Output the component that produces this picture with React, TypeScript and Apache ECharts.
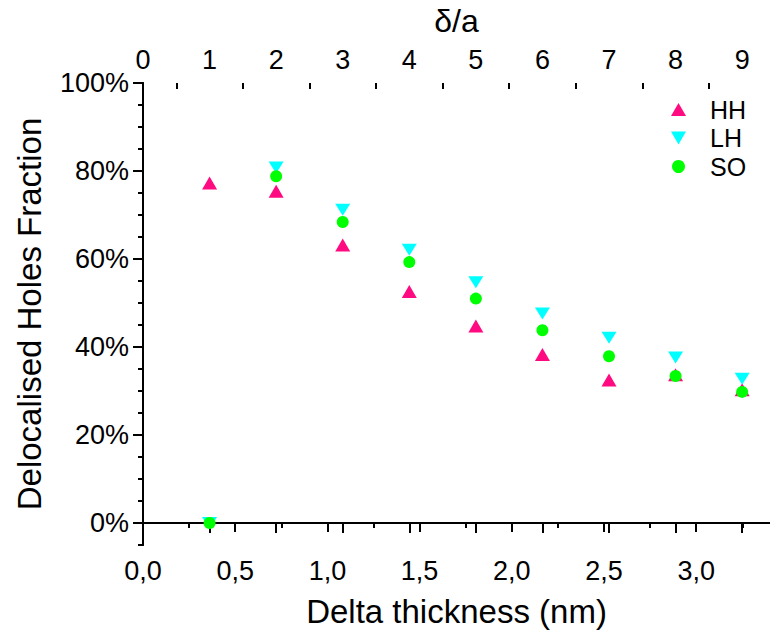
import React, { useEffect, useRef } from "react";
import * as echarts from "echarts";

// δ/a positions of the samples (top axis)
const deltaOverA = [1, 2, 3, 4, 5, 6, 7, 8, 9];
// Delocalised holes fraction (%)
const hhValues = [77.3, 75.4, 63.2, 52.6, 44.8, 38.3, 32.5, 33.7, 30.3];
const lhValues = [0, 80.8, 71.2, 62.1, 54.7, 47.6, 42.1, 37.6, 32.8];
const soValues = [0, 78.8, 68.4, 59.3, 51.0, 43.8, 37.9, 33.4, 29.8];

// tick positions
const bottomMajor = [0, 0.5, 1, 1.5, 2, 2.5, 3];
const bottomMinor = [0.25, 0.75, 1.25, 1.75, 2.25, 2.75, 3.25];
const topMajor = [0, 1, 2, 3, 4, 5, 6, 7, 8, 9];
const topMinor = [0.5, 1.5, 2.5, 3.5, 4.5, 5.5, 6.5, 7.5, 8.5];
const yMajor = [0, 20, 40, 60, 80, 100];
const yMinor = [-5, 5, 10, 15, 25, 30, 35, 45, 50, 55, 65, 70, 75, 85, 90, 95];

const X_MAX_NM = 3.4;
const NM_PER_DELTA = 0.361;
const Y_MIN = -5;
const Y_MAX = 100;

const FONT = "'Liberation Sans', Arial, Helvetica, sans-serif";
const AXIS_COLOR = "#000";

export default function App() {
  const ref = useRef<HTMLDivElement>(null);
  useEffect(() => {
    if (!ref.current) return;
    const chart = echarts.init(ref.current, null, { renderer: "svg" });
    const lineStyle = { color: AXIS_COLOR, width: 2 };
    const tickLine = { color: AXIS_COLOR, width: 2 };
    const base = {
      splitLine: { show: false },
      minorTick: { show: false },
    };
    const xMaxTop = X_MAX_NM / NM_PER_DELTA;
    const option: any = {
      animation: false,
      textStyle: { fontFamily: FONT },
      grid: { left: 143, top: 74, width: 628, height: 471, containLabel: false },
      legend: {
        orient: "vertical",
        left: 671,
        top: 97,
        padding: 0,
        itemWidth: 15,
        itemHeight: 13,
        itemGap: 3.5,
        textStyle: { fontSize: 25, lineHeight: 25, color: "#000", fontFamily: FONT, padding: [0, 0, 0, 19] },
        data: [
          { name: "HH", icon: "triangle" },
          { name: "LH", icon: "path://M0,0L10,0L5,8.66Z" },
          { name: "SO", icon: "circle" },
        ],
      },
      xAxis: [
        {
          ...base,
          type: "value",
          position: "bottom",
          min: 0,
          max: X_MAX_NM,
          axisLine: { show: true, lineStyle },
          axisTick: { show: true, customValues: bottomMajor, length: 9, lineStyle: tickLine },
          axisLabel: {
            customValues: bottomMajor,
            fontSize: 27,
            color: "#000",
            margin: 12,
            fontFamily: FONT,
            formatter: (v: number) => v.toFixed(1).replace(".", ","),
          },
          name: "Delta thickness (nm)",
          nameLocation: "middle",
          nameGap: 50,
          nameTextStyle: { fontSize: 33, color: "#000", fontFamily: FONT },
        },
        {
          ...base,
          type: "value",
          position: "bottom",
          min: 0,
          max: X_MAX_NM,
          axisLine: { show: false },
          axisTick: { show: true, customValues: bottomMinor, length: 5, lineStyle: tickLine },
          axisLabel: { show: false },
        },
        {
          ...base,
          type: "value",
          position: "top",
          min: 0,
          max: xMaxTop,
          axisLine: { show: true, lineStyle },
          axisTick: { show: true, inside: true, customValues: topMajor, length: 10, lineStyle: tickLine },
          axisLabel: {
            customValues: topMajor,
            fontSize: 27,
            color: "#000",
            margin: 10,
            fontFamily: FONT,
          },
          name: "δ/a",
          nameLocation: "middle",
          nameGap: 46,
          nameTextStyle: { fontSize: 32, color: "#000", fontFamily: FONT },
        },
        {
          ...base,
          type: "value",
          position: "top",
          min: 0,
          max: xMaxTop,
          axisLine: { show: false },
          axisTick: { show: true, inside: true, customValues: topMinor, length: 6, lineStyle: tickLine },
          axisLabel: { show: false },
        },
      ],
      yAxis: [
        {
          ...base,
          type: "value",
          position: "left",
          min: Y_MIN,
          max: Y_MAX,
          axisLine: { show: true, lineStyle },
          axisTick: { show: true, customValues: yMajor, length: 10, lineStyle: tickLine },
          axisLabel: {
            customValues: yMajor,
            fontSize: 27,
            color: "#000",
            margin: 14,
            fontFamily: FONT,
            formatter: (v: number) => `${v}%`,
          },
          name: "Delocalised Holes Fraction",
          nameLocation: "middle",
          nameRotate: 90,
          nameGap: 97,
          nameTextStyle: { fontSize: 33, color: "#000", fontFamily: FONT },
        },
        {
          ...base,
          type: "value",
          position: "left",
          min: Y_MIN,
          max: Y_MAX,
          axisLine: { show: false },
          axisTick: { show: true, customValues: yMinor, length: 5, lineStyle: tickLine },
          axisLabel: { show: false },
        },
        {
          ...base,
          type: "value",
          position: "right",
          min: Y_MIN,
          max: Y_MAX,
          axisLine: { show: true, lineStyle },
          axisTick: { show: true, inside: true, customValues: yMajor, length: 6, lineStyle: tickLine },
          axisLabel: { show: false },
        },
      ],
      series: [
        {
          name: "HH",
          type: "scatter",
          xAxisIndex: 2,
          yAxisIndex: 0,
          symbol: "triangle",
          symbolSize: [15, 13],
          itemStyle: { color: "#FF0A80", opacity: 1 },
          data: deltaOverA.map((d, i) => [d, hhValues[i]]),
        },
        {
          name: "LH",
          type: "scatter",
          xAxisIndex: 2,
          yAxisIndex: 0,
          symbol: "path://M0,0L10,0L5,8.66Z",
          symbolSize: [15, 12],
          itemStyle: { color: "#00FFFF", opacity: 1 },
          data: deltaOverA.map((d, i) => [d, lhValues[i]]),
        },
        {
          name: "SO",
          type: "scatter",
          xAxisIndex: 2,
          yAxisIndex: 0,
          symbol: "circle",
          symbolSize: 12,
          itemStyle: { color: "#00FF00", opacity: 1 },
          data: deltaOverA.map((d, i) => [d, soValues[i]]),
        },
      ],
    };
    chart.setOption(option);
    return () => chart.dispose();
  }, []);
  return (
    <div
      ref={ref}
      style={{ position: "fixed", left: 0, top: 0, width: 770, height: 634, background: "#fff" }}
    />
  );
}
